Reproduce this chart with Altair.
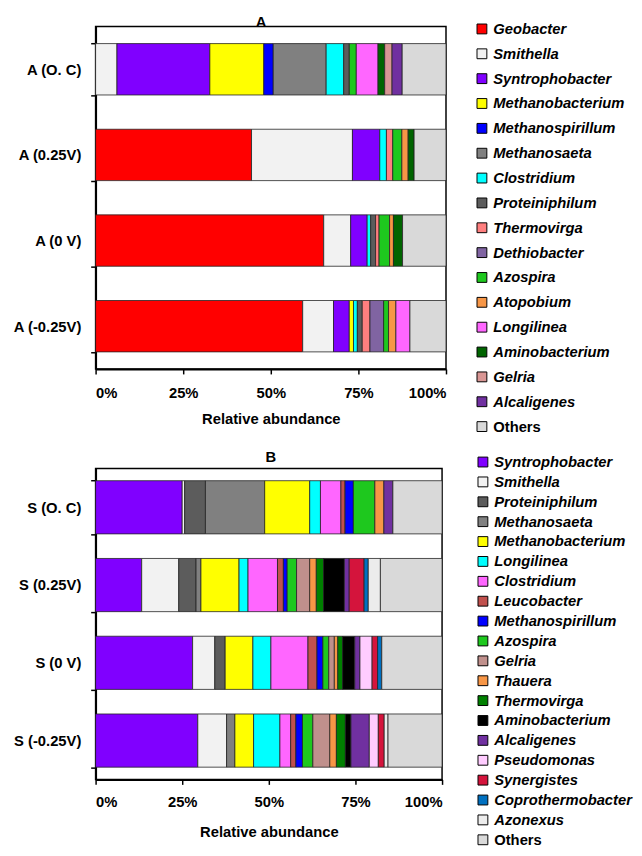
import altair as alt
import pandas as pd

FONT = "Liberation Sans"

# ---------------- Panel A ----------------
a_conditions = ["A (O. C)", "A (0.25V)", "A (0 V)", "A (-0.25V)"]
a_taxa = ["Geobacter", "Smithella", "Syntrophobacter", "Methanobacterium",
          "Methanospirillum", "Methanosaeta", "Clostridium", "Proteiniphilum",
          "Thermovirga", "Dethiobacter", "Azospira", "Atopobium", "Longilinea",
          "Aminobacterium", "Gelria", "Alcaligenes", "Others"]
a_colors = ["#ff0000", "#f2f2f2", "#8000ff", "#ffff00", "#0000ff", "#808080",
            "#00ffff", "#5c5c5c", "#ff7f7f", "#8064a2", "#1ec81e", "#f79646",
            "#ff66ff", "#006400", "#d99694", "#7030a0", "#d9d9d9"]
a_oc = [0, 6.1, 26.5, 15.4, 2.7, 15.1, 5.0, 1.6, 0, 0, 2.0, 0, 6.2, 1.9, 2.1, 2.9, 12.5]
a_p025 = [44.5, 28.8, 7.8, 0, 0, 0, 1.9, 0, 1.8, 0, 2.6, 1.8, 0, 1.7, 0, 0, 9.1]
a_0v = [65.1, 7.7, 4.7, 0, 0, 0, 1.0, 1.4, 1.0, 0, 3.0, 1.1, 0, 2.6, 0, 0, 12.4]
a_m025 = [59.1, 8.8, 4.5, 1.2, 0, 0, 1.1, 1.4, 2.2, 3.9, 1.4, 2.1, 4.0, 0, 0, 0, 10.3]

# ---------------- Panel B ----------------
b_conditions = ["S (O. C)", "S (0.25V)", "S (0 V)", "S (-0.25V)"]
b_taxa = ["Syntrophobacter", "Smithella", "Proteiniphilum", "Methanosaeta",
          "Methanobacterium", "Longilinea", "Clostridium", "Leucobacter",
          "Methanospirillum", "Azospira", "Gelria", "Thauera", "Thermovirga",
          "Aminobacterium", "Alcaligenes", "Pseudomonas", "Synergistes",
          "Coprothermobacter", "Azonexus", "Others"]
b_colors = ["#8000ff", "#f2f2f2", "#5c5c5c", "#808080", "#ffff00", "#00ffff",
            "#ff66ff", "#c0504d", "#0000ff", "#1ec81e", "#c0908c", "#f79646",
            "#008000", "#000000", "#7030a0", "#ffccff", "#d4143c", "#0070c0",
            "#ececec", "#d9d9d9"]
b_oc = [25.0, 0.7, 6.0, 17.1, 13.0, 3.1, 5.9, 1.2, 2.4, 6.2, 0, 2.6, 0, 0, 2.6, 0, 0, 0, 0, 14.2]
b_p025 = [13.3, 10.7, 5.0, 1.4, 11.0, 2.6, 8.5, 1.7, 1.1, 2.7, 3.8, 1.9, 2.1, 6.0, 1.4, 0, 4.3, 1.2, 3.5, 17.8]
b_0v = [28.0, 6.4, 3.0, 0, 8.0, 5.2, 10.7, 2.6, 1.7, 1.7, 1.6, 1.0, 1.4, 3.5, 1.5, 3.5, 1.6, 1.2, 0, 17.4]
b_m025 = [29.5, 8.3, 0, 2.4, 5.4, 7.6, 3.1, 1.5, 1.9, 3.0, 4.9, 1.9, 2.6, 1.6, 5.3, 2.6, 1.7, 0, 1.1, 15.6]

x_ticks = [0, 25, 50, 75, 100]


def build_df(conditions, taxa, series):
    rows = []
    for cond, vals in zip(conditions, series):
        for i, (t, v) in enumerate(zip(taxa, vals)):
            if v > 0:
                rows.append({"cond": cond, "taxon": t, "value": v, "idx": i})
    return pd.DataFrame(rows)


def panel(df, conditions, taxa, colors, title, width, height, pad_inner,
          leg_x, leg_y, row_pad, title_dx, title_offset, lab_pad, tit_pad):
    return alt.Chart(df).mark_bar(stroke="#222222", strokeWidth=0.8).encode(
        x=alt.X("value:Q", stack="zero",
                scale=alt.Scale(domain=[0, 100], nice=False, zero=True),
                axis=alt.Axis(values=x_ticks, labelExpr="datum.value + '%'",
                              title="Relative  abundance", labelPadding=lab_pad,
                              titlePadding=tit_pad, grid=False)),
        y=alt.Y("cond:N", sort=conditions, title=None,
                scale=alt.Scale(paddingInner=pad_inner, paddingOuter=pad_inner / 2),
                axis=alt.Axis(tickBand="extent", labelPadding=10, grid=False)),
        color=alt.Color("taxon:N",
                        scale=alt.Scale(domain=taxa, range=colors),
                        legend=alt.Legend(
                            title=None, orient="none", legendX=leg_x, legendY=leg_y,
                            symbolType="square", symbolSize=100,
                            symbolStrokeColor="black", symbolStrokeWidth=1,
                            symbolOpacity=1,
                            labelFont=FONT, labelFontSize=15,
                            labelFontWeight="bold",
                            labelFontStyle={"expr": "datum.label == 'Others' ? 'normal' : 'italic'"},
                            labelColor="black", labelOffset=4, labelLimit=0,
                            rowPadding=row_pad)),
        order=alt.Order("idx:Q"),
    ).properties(
        width=width, height=height,
        title=alt.TitleParams(title, font=FONT, fontSize=15, fontWeight="bold",
                              color="black", dx=title_dx, offset=title_offset),
    )


df_a = build_df(a_conditions, a_taxa, [a_oc, a_p025, a_0v, a_m025])
df_b = build_df(b_conditions, b_taxa, [b_oc, b_p025, b_0v, b_m025])

chart_a = panel(df_a, a_conditions, a_taxa, a_colors, "A", 356, 348, 0.40,
                385, -5, 9.25, -10, -11, 12, 11)
chart_b = panel(df_b, b_conditions, b_taxa, b_colors, "B", 352, 316, 0.316,
                386, -14, 4.2, 2, -10.5, 10, 16)

chart = alt.vconcat(chart_a, chart_b, spacing=101, bounds="flush").resolve_scale(
    color="independent"
).properties(
    padding={"left": 4, "top": 0, "right": 0, "bottom": 0}
).configure_view(
    stroke="black", strokeWidth=1.5
).configure_axis(
    domainColor="black", domainWidth=2, tickColor="black", tickWidth=1.5,
    tickSize=5, labelFont=FONT, labelFontSize=15, labelFontWeight="bold",
    labelColor="black", titleFont=FONT, titleFontSize=15, titleFontWeight="bold",
    titleColor="black"
)

chart.save("out.html", embed_options={"renderer": "svg", "actions": False})
